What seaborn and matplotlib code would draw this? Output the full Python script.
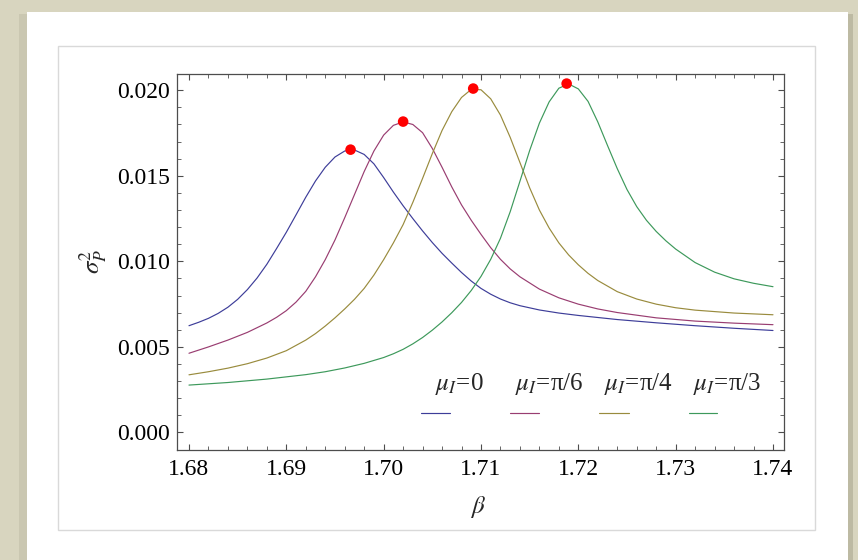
import matplotlib
matplotlib.use("Agg")
import matplotlib.pyplot as plt
import numpy as np
import pandas as pd
import seaborn as sns
from matplotlib.patches import Rectangle
from matplotlib.ticker import MultipleLocator, FormatStrFormatter

# ---------------- data ----------------
series_names = ["mu0", "mu_pi6", "mu_pi4", "mu_pi3"]
legend_labels = [r"$\mu_I$=0", r"$\mu_I$=π/6", r"$\mu_I$=π/4", r"$\mu_I$=π/3"]

beta_blue = [1.680, 1.681, 1.682, 1.683, 1.684, 1.685, 1.686, 1.687, 1.688, 1.689,
             1.690, 1.691, 1.692, 1.693, 1.694, 1.695, 1.696, 1.697, 1.698, 1.699,
             1.700, 1.701, 1.702, 1.703, 1.704, 1.705, 1.706, 1.707, 1.708, 1.709,
             1.710, 1.711, 1.712, 1.713, 1.714, 1.716, 1.718, 1.720, 1.724, 1.728,
             1.732, 1.736, 1.740]
sigma_blue = [0.00624, 0.00644, 0.00667, 0.00696, 0.00732, 0.00778, 0.00835, 0.00903, 0.00983, 0.01075,
              0.01170, 0.01272, 0.01375, 0.01470, 0.01550, 0.01610, 0.01645, 0.01651, 0.01625, 0.01570,
              0.01490, 0.01405, 0.01325, 0.01250, 0.01178, 0.01110, 0.01047, 0.00990, 0.00935, 0.00885,
              0.00842, 0.00808, 0.00780, 0.00758, 0.00741, 0.00716, 0.00698, 0.00684, 0.00660, 0.00641,
              0.00624, 0.00609, 0.00596]

beta_mag = [1.680, 1.682, 1.684, 1.686, 1.688, 1.689, 1.690, 1.691, 1.692, 1.693,
            1.694, 1.695, 1.696, 1.697, 1.698, 1.699, 1.700, 1.701, 1.702, 1.703,
            1.704, 1.705, 1.706, 1.707, 1.708, 1.709, 1.710, 1.711, 1.712, 1.713,
            1.714, 1.716, 1.718, 1.720, 1.722, 1.724, 1.728, 1.732, 1.736, 1.740]
sigma_mag = [0.00463, 0.00500, 0.00540, 0.00585, 0.00640, 0.00673, 0.00712, 0.00762, 0.00825, 0.00910,
             0.01010, 0.01125, 0.01255, 0.01390, 0.01525, 0.01645, 0.01738, 0.01795, 0.01815, 0.01800,
             0.01752, 0.01660, 0.01550, 0.01435, 0.01330, 0.01240, 0.01158, 0.01080, 0.01012, 0.00956,
             0.00910, 0.00838, 0.00787, 0.00750, 0.00722, 0.00701, 0.00670, 0.00651, 0.00639, 0.00630]

beta_oli = [1.680, 1.682, 1.684, 1.686, 1.688, 1.690, 1.692, 1.693, 1.694, 1.695,
            1.696, 1.697, 1.698, 1.699, 1.700, 1.701, 1.702, 1.703, 1.704, 1.705,
            1.706, 1.707, 1.708, 1.709, 1.710, 1.711, 1.712, 1.713, 1.714, 1.715,
            1.716, 1.717, 1.718, 1.719, 1.720, 1.721, 1.722, 1.724, 1.726, 1.728,
            1.730, 1.732, 1.736, 1.740]
sigma_oli = [0.00337, 0.00355, 0.00376, 0.00402, 0.00435, 0.00478, 0.00540, 0.00578, 0.00622, 0.00670,
             0.00722, 0.00778, 0.00842, 0.00920, 0.01010, 0.01108, 0.01215, 0.01345, 0.01485, 0.01630,
             0.01765, 0.01875, 0.01958, 0.02005, 0.02003, 0.01950, 0.01855, 0.01725, 0.01578, 0.01430,
             0.01300, 0.01195, 0.01108, 0.01038, 0.00980, 0.00930, 0.00888, 0.00823, 0.00780, 0.00750,
             0.00729, 0.00715, 0.00698, 0.00688]

beta_grn = [1.680, 1.684, 1.688, 1.692, 1.694, 1.696, 1.698, 1.700, 1.701, 1.702,
            1.703, 1.704, 1.705, 1.706, 1.707, 1.708, 1.709, 1.710, 1.711, 1.712,
            1.713, 1.714, 1.715, 1.716, 1.717, 1.718, 1.719, 1.720, 1.721, 1.722,
            1.723, 1.724, 1.725, 1.726, 1.727, 1.728, 1.729, 1.730, 1.732, 1.734,
            1.736, 1.738, 1.740]
sigma_grn = [0.00277, 0.00292, 0.00312, 0.00338, 0.00355, 0.00377, 0.00404, 0.00438, 0.00460, 0.00486,
             0.00518, 0.00555, 0.00598, 0.00646, 0.00700, 0.00760, 0.00830, 0.00912, 0.01012, 0.01135,
             0.01290, 0.01468, 0.01648, 0.01808, 0.01932, 0.02012, 0.02037, 0.02008, 0.01935, 0.01815,
             0.01677, 0.01542, 0.01420, 0.01320, 0.01240, 0.01175, 0.01120, 0.01072, 0.00993, 0.00937,
             0.00898, 0.00872, 0.00852]

peak_beta = [1.6966, 1.7020, 1.7092, 1.7188]
peak_sigma = [0.01653, 0.01817, 0.02010, 0.02039]

x_major_ticks = [1.68, 1.69, 1.70, 1.71, 1.72, 1.73, 1.74]
y_major_ticks = [0.000, 0.005, 0.010, 0.015, 0.020]

# ---------------- style ----------------
colors = ["#3d3d99", "#993d71", "#998b3d", "#3d995b"]
palette = dict(zip(series_names, colors))

sns.set_style("white")
plt.rcParams["font.family"] = ["Liberation Serif", "DejaVu Serif"]
plt.rcParams["mathtext.fontset"] = "stix"

frames = []
for name, b, s in zip(series_names,
                      [beta_blue, beta_mag, beta_oli, beta_grn],
                      [sigma_blue, sigma_mag, sigma_oli, sigma_grn]):
    frames.append(pd.DataFrame({"beta": b, "sigma": s, "series": name}))
df = pd.concat(frames, ignore_index=True)
peaks = pd.DataFrame({"beta": peak_beta, "sigma": peak_sigma})

W, H = 858, 560
fig = plt.figure(figsize=(W / 100, H / 100), dpi=100)
fig.patch.set_facecolor("#d8d5bf")


def fx(x):
    return x / W


def fy(y):
    return 1 - y / H


# page background: white panel with a soft shadow (drawn below the axes)
fig.patches.append(Rectangle((fx(19), 0), fx(8), fy(14), transform=fig.transFigure,
                             facecolor="#cac7b1", edgecolor="none", zorder=-3))
fig.patches.append(Rectangle((fx(848), 0), fx(5), fy(14), transform=fig.transFigure,
                             facecolor="#bdbaa3", edgecolor="none", zorder=-3))
fig.patches.append(Rectangle((fx(27), 0), fx(848 - 27), fy(12), transform=fig.transFigure,
                             facecolor="white", edgecolor="none", zorder=-2))
fig.patches.append(Rectangle((fx(58), fy(530)), fx(815 - 58), (530 - 46) / H,
                             transform=fig.transFigure, facecolor="none",
                             edgecolor="#d9d9d9", lw=1.0, zorder=-1))

ax = fig.add_axes([fx(177), fy(449.5), (784 - 177) / W, (449.5 - 73.5) / H])
ax.set_facecolor("white")

sns.lineplot(data=df, x="beta", y="sigma", hue="series", palette=palette,
             hue_order=series_names, estimator=None, sort=True, lw=0.85,
             legend=False, ax=ax)
sns.scatterplot(data=peaks, x="beta", y="sigma", color="#ff0000", s=58,
                edgecolor="none", zorder=5, ax=ax)

ax.set_xlim(1.67877, 1.74113)
ax.set_ylim(-0.000995, 0.02098)
ax.set_xticks(x_major_ticks)
ax.set_yticks(y_major_ticks)
ax.xaxis.set_minor_locator(MultipleLocator(0.002))
ax.yaxis.set_minor_locator(MultipleLocator(0.001))
ax.xaxis.set_major_formatter(FormatStrFormatter("%.2f"))
ax.yaxis.set_major_formatter(FormatStrFormatter("%.3f"))

for sp in ax.spines.values():
    sp.set_color("#4d4d4d")
    sp.set_linewidth(0.9)
    sp.set_visible(True)

ax.tick_params(which="both", direction="in", top=True, right=True,
               bottom=True, left=True,
               colors="#4d4d4d", labelcolor="black", labelsize=17)
ax.tick_params(which="major", length=4.5, width=0.8)
ax.tick_params(which="minor", length=2.6, width=0.6)
ax.tick_params(axis="x", which="both", pad=7)
ax.tick_params(axis="y", which="both", pad=5)

ax.set_xlabel(r"$\beta$", fontsize=18)
ax.xaxis.set_label_coords(0.496, -0.118)
ax.set_ylabel(r"$\sigma_P^2$", fontsize=18)
ax.yaxis.set_label_coords(-0.112, 0.5)

# legend: labels above short line samples
text_x = [0.425, 0.557, 0.704, 0.850]
line_x = [(0.402, 0.450), (0.549, 0.596), (0.695, 0.745), (0.843, 0.890)]
for lab, tx, (x0, x1), c in zip(legend_labels, text_x, line_x, colors):
    ax.text(tx, 0.158, lab, transform=ax.transAxes, fontsize=18,
            ha="left", va="baseline")
    ax.plot([x0, x1], [0.0973, 0.0973], transform=ax.transAxes, color=c, lw=0.85)

fig.savefig("out.png", dpi=100, facecolor=fig.get_facecolor())
